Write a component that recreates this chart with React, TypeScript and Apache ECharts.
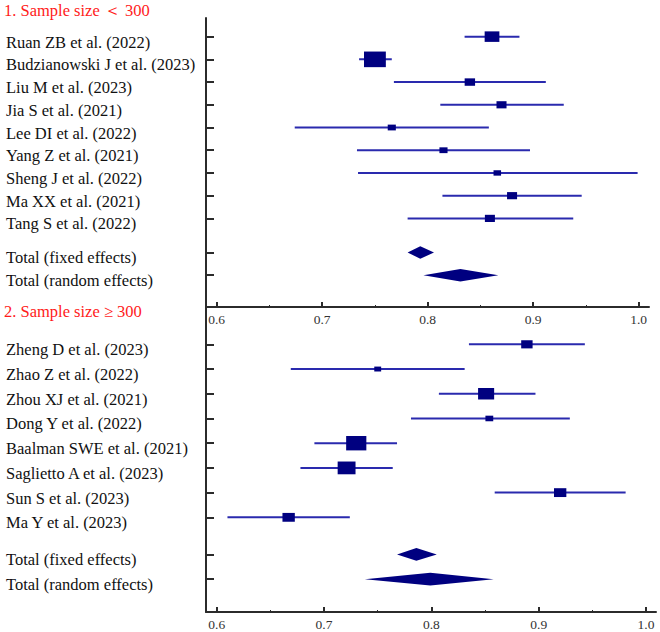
import React, { useEffect, useRef } from "react";
import * as echarts from "echarts";

// ---- Panel 1: sample size < 300 ----
const title1 = "1. Sample size ＜ 300";
const studies1 = [
  "Ruan ZB et al. (2022)",
  "Budzianowski J et al. (2023)",
  "Liu M et al. (2023)",
  "Jia S et al. (2021)",
  "Lee DI et al. (2022)",
  "Yang Z et al. (2021)",
  "Sheng J et al. (2022)",
  "Ma XX et al. (2021)",
  "Tang S et al. (2022)",
];
const mean1 = [0.861, 0.75, 0.84, 0.87, 0.766, 0.815, 0.866, 0.88, 0.859];
const lower1 = [0.835, 0.735, 0.768, 0.812, 0.674, 0.733, 0.734, 0.814, 0.781];
const upper1 = [0.887, 0.766, 0.912, 0.929, 0.858, 0.897, 0.999, 0.946, 0.938];
const weight1 = [16.8, 37.0, 8.4, 7.8, 5.1, 5.1, 4.4, 7.8, 7.8];
const fixed1 = [0.793, 0.781, 0.806];
const random1 = [0.831, 0.796, 0.867];

// ---- Panel 2: sample size >= 300 ----
const title2 = "2. Sample size ≥ 300";
const studies2 = [
  "Zheng D et al. (2023)",
  "Zhao Z et al. (2022)",
  "Zhou XJ et al. (2021)",
  "Dong Y et al. (2022)",
  "Baalman SWE et al. (2021)",
  "Saglietto A et al. (2023)",
  "Sun S et al. (2023)",
  "Ma Y et al. (2023)",
];
const mean2 = [0.889, 0.75, 0.851, 0.854, 0.73, 0.721, 0.92, 0.667];
const lower2 = [0.835, 0.669, 0.807, 0.781, 0.691, 0.678, 0.859, 0.61];
const upper2 = [0.943, 0.831, 0.897, 0.929, 0.768, 0.764, 0.981, 0.724];
const weight2 = [8.5, 3.1, 16.9, 4.0, 26.7, 20.9, 10.0, 10.0];
const fixed2 = [0.786, 0.768, 0.805];
const random2 = [0.799, 0.738, 0.858];

const totalNames = ["Total (fixed effects)", "Total (random effects)"];
const majorTicks = [0.6, 0.7, 0.8, 0.9, 1.0];
const minorTicks = [0.65, 0.75, 0.85, 0.95];

function buildPanel(mean: number[], lower: number[], upper: number[], weight: number[], fixed: number[], random: number[], names: string[]) {
  const data: number[][] = [];
  const rows: number[] = [];
  const labels: string[] = [];
  mean.forEach((m, i) => {
    data.push([i, m, lower[i], upper[i], weight[i], 0]);
    rows.push(i);
    labels.push(names[i]);
  });
  const n = mean.length;
  [fixed, random].forEach((t, j) => {
    const r = n + 0.5 + j;
    data.push([r, t[0], t[1], t[2], 0, 1]);
    rows.push(r);
    labels.push(totalNames[j]);
  });
  return { data, rows, labels };
}

const SQUARE_COLOR = "#000080";
const LINE_COLOR = "#2a2aae";
const AXIS_COLOR = "#2b2b2b";
const SERIF = "'Liberation Serif', 'Times New Roman', serif";

function renderItem(params: any, api: any) {
  const row = api.value(0);
  const m = api.value(1);
  const lo = api.value(2);
  const hi = api.value(3);
  const w = api.value(4);
  const kind = api.value(5);
  const c = api.coord([m, row]);
  const l = api.coord([lo, row]);
  const h = api.coord([hi, row]);
  const rowH = Math.abs(api.size([0, 1])[1]);
  if (kind === 1) {
    const dh = 6.3;
    return {
      type: "polygon",
      shape: { points: [[l[0], c[1]], [c[0], c[1] - dh], [h[0], c[1]], [c[0], c[1] + dh]] },
      style: { fill: SQUARE_COLOR },
    };
  }
  const sh = 0.113 * rowH * Math.sqrt(w);
  const sw = sh * 1.4;
  return {
    type: "group",
    children: [
      { type: "line", shape: { x1: l[0], y1: c[1], x2: h[0], y2: c[1] }, style: { stroke: LINE_COLOR, lineWidth: 2 } },
      { type: "rect", shape: { x: c[0] - sw / 2, y: c[1] - sh / 2, width: sw, height: sh }, style: { fill: SQUARE_COLOR } },
    ],
  };
}

export default function App() {
  const ref = useRef<HTMLDivElement>(null);
  useEffect(() => {
    document.body.style.margin = "0";
    const chart = echarts.init(ref.current!, null, { renderer: "svg" });
    const p1 = buildPanel(mean1, lower1, upper1, weight1, fixed1, random1, studies1);
    const p2 = buildPanel(mean2, lower2, upper2, weight2, fixed2, random2, studies2);

    const xAxisMain = (gridIndex: number, min: number, max: number) => ({
      type: "value",
      gridIndex,
      min,
      max,
      position: "bottom",
      axisLine: { show: true, onZero: false, lineStyle: { color: AXIS_COLOR, width: 2 } },
      axisTick: { show: true, inside: true, length: 5, customValues: majorTicks, lineStyle: { color: AXIS_COLOR, width: 2 } },
      axisLabel: {
        show: true,
        customValues: majorTicks,
        formatter: (v: number) => v.toFixed(1),
        margin: 5,
        fontFamily: SERIF,
        fontSize: 13.5,
        color: "#333",
      },
      splitLine: { show: false },
    });
    const xAxisMinor = (gridIndex: number, min: number, max: number) => ({
      type: "value",
      gridIndex,
      min,
      max,
      position: "bottom",
      axisLine: { show: false, onZero: false },
      axisTick: { show: true, inside: true, length: 2, customValues: minorTicks, lineStyle: { color: AXIS_COLOR, width: 1 } },
      axisLabel: { show: false },
      splitLine: { show: false },
    });
    const yAxis = (gridIndex: number, min: number, max: number, p: any) => ({
      type: "value",
      gridIndex,
      min,
      max,
      inverse: true,
      axisLine: { show: true, onZero: false, lineStyle: { color: AXIS_COLOR, width: 2 } },
      axisTick: { show: true, inside: true, length: 8, customValues: p.rows, lineStyle: { color: AXIS_COLOR, width: 2 } },
      axisLabel: {
        show: true,
        customValues: p.rows,
        formatter: (v: number) => {
          const idx = p.rows.findIndex((r: number) => Math.abs(r - v) < 1e-6);
          return idx >= 0 ? p.labels[idx] : "";
        },
        align: "left",
        verticalAlign: "top",
        lineHeight: 11,
        margin: 200,
        fontFamily: SERIF,
        fontSize: 16.5,
        color: "#111",
      },
      splitLine: { show: false },
    });

    chart.setOption({
      animation: false,
      backgroundColor: "#ffffff",
      title: [
        { text: title1, left: 4, top: 2, padding: 0, textStyle: { color: "#ff1a1a", fontFamily: SERIF, fontSize: 16.5, fontWeight: "normal" } },
        { text: title2, left: 4, top: 303, padding: 0, textStyle: { color: "#ff1a1a", fontFamily: SERIF, fontSize: 16.5, fontWeight: "normal" } },
      ],
      grid: [
        { left: 206, right: 11, top: 18, height: 289, outerBoundsMode: "none" },
        { left: 206, right: 4, top: 307, height: 305, outerBoundsMode: "none" },
      ],
      xAxis: [
        xAxisMain(0, 0.5899, 1.0098),
        xAxisMain(1, 0.59, 1.0093),
        xAxisMinor(0, 0.5899, 1.0098),
        xAxisMinor(1, 0.59, 1.0093),
      ],
      yAxis: [yAxis(0, -0.82, 11.9, p1), yAxis(1, -1.51, 10.83, p2)],
      series: [
        { type: "custom", xAxisIndex: 0, yAxisIndex: 0, renderItem, data: p1.data, encode: { x: [1, 2, 3], y: 0 }, clip: false },
        { type: "custom", xAxisIndex: 1, yAxisIndex: 1, renderItem, data: p2.data, encode: { x: [1, 2, 3], y: 0 }, clip: false },
      ],
    });
    return () => chart.dispose();
  }, []);
  return <div ref={ref} style={{ width: 660, height: 632, position: "absolute", left: 0, top: 0 }} />;
}
